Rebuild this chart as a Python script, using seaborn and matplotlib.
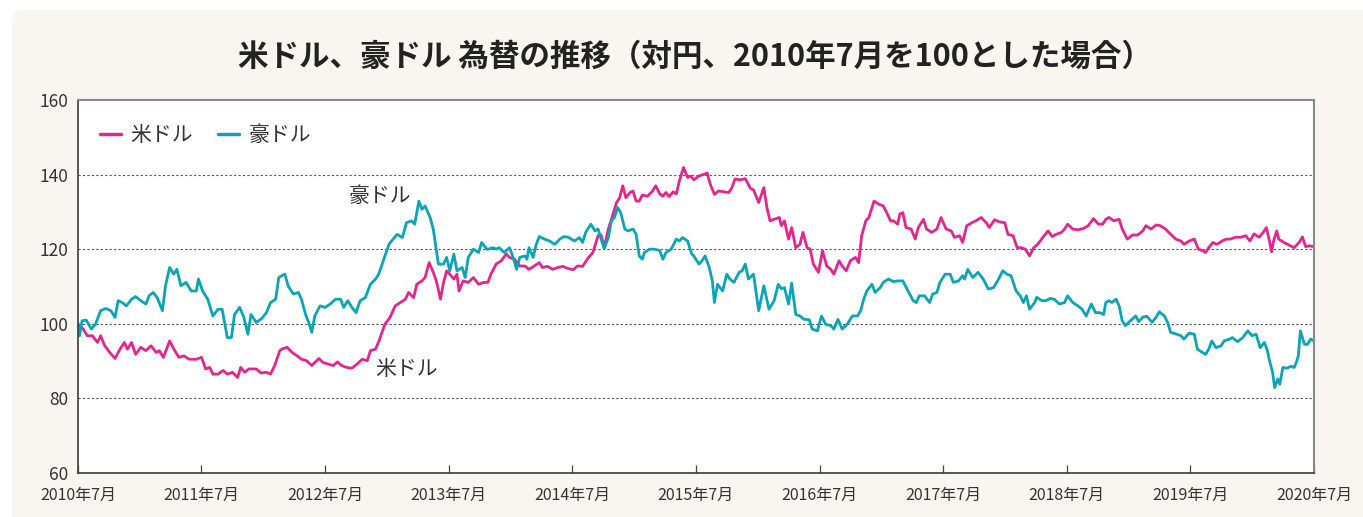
import pandas as pd
import numpy as np
import matplotlib
matplotlib.use("Agg")
import matplotlib.pyplot as plt
from matplotlib.patches import FancyBboxPatch
import seaborn as sns

# ----------------------------
# データ（2010年7月=100、横軸は2010年7月からの経過月数）
# ----------------------------
usd_month = [
    0.0, 0.5, 0.9, 1.4, 1.9, 2.2, 2.6, 3.1, 3.6, 4.0, 4.5, 4.8, 5.2, 5.6, 6.1, 6.6, 7.1, 7.6, 7.9, 8.3,
    8.9, 9.4, 9.8, 10.3, 10.8, 11.5, 12.0, 12.4, 12.8, 13.1, 13.6, 14.1, 14.5, 15.0, 15.5, 15.8, 16.2,
    16.6, 17.3, 17.8, 18.3, 18.7, 19.1, 19.6,
    19.8, 20.3, 20.8, 21.3, 21.7, 22.2, 22.7, 23.0, 23.4, 23.8, 24.3, 24.8, 25.2, 25.6, 26.1, 26.6, 27.1,
    27.6, 28.1, 28.4, 28.9, 29.3, 29.8, 30.3, 30.8, 31.3, 31.8, 32.1, 32.6, 32.9, 33.4, 33.7, 34.1, 34.5,
    34.8, 35.2, 35.5, 35.8, 36.1, 36.5, 36.8, 37.0, 37.4, 37.9, 38.4, 38.9, 39.4,
    39.8, 40.1, 40.6, 41.1, 41.6, 41.9, 42.4, 42.9, 43.4, 43.8, 44.3, 44.8, 45.1, 45.6, 46.1, 46.6, 47.1,
    47.6, 48.1, 48.5, 49.0, 49.5, 50.0, 50.5, 50.8, 51.1, 51.5, 51.8, 52.3, 52.6, 52.9, 53.2, 53.6, 53.9,
    54.2, 54.5, 54.8, 55.3, 55.8, 56.1, 56.5, 56.8, 57.1, 57.4, 57.8, 58.1, 58.4, 58.8, 59.2, 59.5,
    59.8, 60.3, 60.8, 61.1, 61.4, 61.8, 62.2, 62.7, 63.2, 63.5, 63.8, 64.3, 64.8, 65.3, 65.6, 66.1, 66.6,
    66.9, 67.2, 67.6, 68.1, 68.3, 68.6, 69.0, 69.3, 69.7, 70.1, 70.4, 70.8, 71.1, 71.4, 71.9, 72.3, 72.7,
    73.1, 73.4, 73.9, 74.2, 74.6, 75.0, 75.5, 75.8, 76.1, 76.5, 76.8, 77.3, 77.8, 78.2, 78.6, 78.9, 79.2,
    79.6,
    79.8, 80.1, 80.4, 80.9, 81.3, 81.6, 82.1, 82.4, 82.9, 83.4, 83.8, 84.3, 84.8, 85.1, 85.6, 85.9, 86.3,
    86.8, 87.2, 87.7, 88.2, 88.5, 89.0, 89.5, 90.0, 90.3, 90.8, 91.2, 91.6, 92.0, 92.4, 92.8, 93.2, 93.7,
    94.2, 94.6, 95.0, 95.5, 95.8, 96.1, 96.6, 97.1, 97.6, 98.1, 98.6, 99.1, 99.5,
    99.8, 100.1, 100.6, 101.1, 101.4, 101.9, 102.4, 102.9, 103.4, 103.7, 104.2, 104.7, 105.1, 105.6,
    106.1, 106.6, 107.1, 107.4, 107.9, 108.4, 108.8, 109.2, 109.5, 109.8, 110.2, 110.6, 111.1, 111.5,
    111.9, 112.4, 112.9, 113.4, 113.8, 114.2, 114.7, 115.2, 115.4, 115.7, 115.9, 116.1, 116.4, 116.6,
    117.1, 117.6, 118.1, 118.6, 118.9, 119.2, 119.6, 120.0,
]
usd_value = [
    100.0, 98.6, 96.8, 96.8, 95.0, 96.8, 94.1, 92.3, 90.7, 92.8, 95.0, 93.2, 95.0, 91.8, 93.7, 92.8, 94.1,
    92.3, 92.8, 91.0, 95.4, 92.8, 91.0, 91.4, 90.5, 90.5, 91.0, 87.9, 88.3, 86.5, 86.5, 87.5, 86.5, 87.0,
    85.6, 88.3, 87.0, 87.9, 87.9, 86.8, 87.0, 86.5, 88.8, 92.8,
    93.2, 93.7, 92.3, 91.4, 90.5, 90.1, 88.8, 89.6, 90.7, 89.6, 89.2, 88.8, 89.8, 88.8, 88.3, 88.1, 89.2,
    90.5, 90.1, 92.8, 93.2, 95.9, 99.9, 101.7, 104.8, 105.7, 106.6, 108.4, 107.0, 110.6, 111.5, 112.4,
    116.4, 113.8, 111.5, 106.6, 111.1, 114.2, 113.3, 112.0, 113.3, 108.8, 111.5, 111.1, 112.4, 110.6,
    111.1,
    111.1, 113.3, 116.0, 116.9, 118.7, 117.8, 117.3, 115.5, 115.5, 114.6, 115.5, 116.4, 115.1, 115.4,
    114.6, 115.1, 115.4, 114.8, 114.5, 115.5, 115.4, 117.5, 119.1, 123.6, 123.8, 120.4, 125.4, 128.0,
    132.5, 133.8, 137.0, 133.8, 135.2, 135.6, 132.9, 132.9, 134.5, 134.2, 135.6, 137.0, 134.8, 134.2,
    135.2, 134.1, 135.4, 134.8, 138.3, 141.9, 139.2, 139.6,
    138.6, 139.6, 140.1, 140.4, 137.4, 134.7, 135.6, 135.4, 135.2, 136.5, 138.8, 138.6, 138.9, 136.3,
    135.9, 132.5, 136.5, 131.2, 127.6, 128.0, 128.5, 126.3, 127.6, 122.7, 125.8, 120.4, 121.3, 124.5,
    120.4, 120.0, 116.0, 113.8, 119.6, 115.5, 114.6, 113.3, 116.9, 115.5, 114.2, 116.9, 117.8, 116.4,
    123.6, 127.6, 128.5, 132.9, 132.0, 131.6, 129.4, 127.6, 127.6, 126.7,
    129.4, 129.8, 125.8, 125.4, 122.7, 125.8, 128.0, 125.4, 124.5, 125.4, 128.5, 125.4, 124.9, 123.2,
    123.6, 121.8, 126.3, 127.1, 127.6, 128.5, 127.1, 125.8, 127.9, 127.3, 127.1, 124.0, 123.6, 120.4,
    120.4, 120.0, 118.2, 120.4, 121.3, 123.2, 124.9, 123.4, 124.0, 124.5, 125.4, 126.7, 125.4, 125.2,
    125.5, 126.3, 128.2, 126.7, 126.7,
    128.0, 128.5, 127.6, 128.0, 125.4, 122.7, 123.8, 123.8, 124.9, 126.3, 125.4, 126.5, 126.3, 125.4,
    124.0, 122.7, 122.2, 121.3, 122.2, 122.7, 120.0, 119.6, 119.1, 120.4, 121.8, 121.3, 122.2, 122.7,
    122.7, 123.2, 123.2, 123.6, 122.2, 124.1, 123.2, 124.9, 125.8, 122.2, 119.3, 122.2, 124.9, 122.7,
    121.8, 121.1, 120.4, 121.9, 123.3, 120.7, 120.9, 120.7,
]

aud_month = [
    0.0, 0.15, 0.4, 0.8, 1.3, 1.7, 2.2, 2.7, 3.2, 3.6, 3.9, 4.3, 4.7, 5.2, 5.6, 6.1, 6.6, 6.9, 7.3, 7.7,
    8.2, 8.5, 8.9, 9.3, 9.6, 10.0, 10.5, 11.0, 11.5, 11.7, 12.1, 12.6, 13.1, 13.6, 14.0, 14.5, 14.9,
    15.2, 15.7, 16.1, 16.5, 16.8, 17.3, 17.8, 18.3, 18.7, 19.2, 19.5,
    19.8, 20.1, 20.4, 20.9, 21.4, 21.7, 22.1, 22.4, 22.7, 23.0, 23.5, 24.0, 24.5, 25.0, 25.5, 25.8, 26.2,
    26.6, 27.0, 27.4, 27.9, 28.4, 28.9, 29.2, 29.7, 30.2, 30.6, 31.0, 31.5, 31.9, 32.4, 32.7, 33.1, 33.4,
    33.7, 34.2, 34.5, 35.0, 35.5, 35.8, 36.1, 36.5, 36.8, 37.3, 37.6, 37.9, 38.4, 38.9, 39.2, 39.7,
    39.8, 40.3, 40.6, 40.9, 41.4, 41.9, 42.2, 42.6, 42.9, 43.4, 43.6, 43.8, 44.2, 44.5, 44.8, 45.3, 45.8,
    46.3, 46.8, 47.2, 47.7, 48.2, 48.7, 49.0, 49.3, 49.8, 50.2, 50.5, 50.8, 51.1, 51.5, 51.8, 52.1, 52.4,
    52.7, 53.1, 53.4, 53.9, 54.2, 54.5, 54.8, 55.0, 55.5, 56.0, 56.5, 56.8, 57.1, 57.6, 58.1, 58.4, 58.7,
    59.2, 59.6,
    59.8, 60.3, 60.6, 60.9, 61.3, 61.6, 61.8, 62.1, 62.6, 63.0, 63.3, 63.7, 64.2, 64.5, 64.8, 65.1, 65.6,
    66.1, 66.6, 67.1, 67.6, 68.0, 68.3, 68.6, 69.0, 69.3, 69.7, 70.1, 70.5, 71.0, 71.3, 71.8, 72.2, 72.6,
    73.1, 73.4, 73.8, 74.2, 74.7, 75.2, 75.7, 76.0, 76.3, 76.6, 77.1, 77.4, 77.9, 78.2, 78.7, 79.2, 79.6,
    79.8, 80.1, 80.6, 81.1, 81.4, 81.7, 82.2, 82.7, 83.0, 83.4, 83.7, 84.2, 84.7, 85.0, 85.5, 85.9, 86.1,
    86.4, 86.9, 87.4, 87.9, 88.4, 88.9, 89.3, 89.8, 90.2, 90.6, 91.1, 91.5, 91.8, 92.1, 92.4, 92.9, 93.1,
    93.6, 94.0, 94.4, 94.8, 95.3, 95.8, 96.1, 96.6, 97.1, 97.5, 97.9, 98.4, 98.8, 99.2, 99.6,
    99.8, 100.1, 100.4, 100.8, 101.1, 101.4, 101.7, 102.2, 102.7, 103.0, 103.4, 103.8, 104.3, 104.7,
    105.0, 105.5, 105.8, 106.1, 106.6, 107.1, 107.4, 107.9, 108.4, 108.7, 109.2, 109.5, 109.8, 110.1,
    110.5, 111.0, 111.3, 111.8, 112.1, 112.6, 113.1, 113.6, 114.0, 114.4, 114.8, 115.2, 115.5, 115.7,
    116.0, 116.2, 116.5, 116.7, 117.0, 117.4, 117.8, 118.1, 118.3, 118.5, 118.7, 119.1, 119.4, 119.7,
    120.0,
]
aud_value = [
    100.0, 96.8, 100.8, 101.0, 98.6, 99.9, 103.5, 104.1, 103.5, 101.7, 106.2, 105.7, 104.8, 106.6, 107.3,
    106.2, 105.3, 107.5, 108.4, 107.0, 103.5, 110.2, 115.1, 113.3, 114.6, 110.2, 111.1, 108.8, 108.8,
    112.0, 108.8, 106.6, 102.1, 103.9, 103.9, 96.3, 96.3, 102.5, 104.4, 101.8, 97.2, 102.5, 100.4, 101.3,
    103.0, 105.7, 106.6, 112.4,
    112.9, 113.3, 110.2, 108.0, 108.4, 106.6, 102.5, 100.4, 97.7, 102.1, 104.8, 104.4, 105.3, 106.6,
    106.6, 104.4, 106.2, 104.4, 103.0, 106.2, 107.0, 110.6, 112.0, 113.3, 117.3, 121.3, 122.7, 124.0,
    123.1, 127.1, 127.6, 126.7, 132.9, 130.7, 131.6, 128.5, 125.4, 116.0, 116.0, 117.8, 114.2, 118.7,
    114.2, 115.1, 112.4, 117.8, 120.0, 119.1, 121.8, 120.0,
    120.0, 120.4, 120.0, 120.4, 119.1, 120.4, 118.2, 114.6, 117.8, 118.2, 117.3, 120.4, 117.8, 121.3,
    123.4, 122.7, 122.2, 121.3, 122.7, 123.4, 123.1, 122.2, 123.1, 121.8, 124.5, 126.7, 124.9, 125.4,
    122.7, 120.2, 123.1, 127.6, 128.5, 131.2, 129.8, 125.4, 124.9, 125.4, 124.0, 118.2, 117.3, 119.1,
    120.0, 120.0, 119.6, 117.3, 119.1, 120.0, 122.7, 122.2, 123.1, 122.2, 118.7,
    118.2, 116.0, 116.9, 118.2, 115.1, 111.5, 105.7, 110.6, 108.8, 113.3, 112.0, 111.1, 113.8, 114.2,
    116.0, 112.0, 113.3, 103.5, 110.2, 103.9, 106.2, 110.6, 109.4, 109.7, 105.3, 110.9, 102.5, 102.1,
    101.2, 101.1, 98.6, 98.1, 102.1, 99.9, 99.5, 98.6, 101.2, 98.6, 99.9, 102.1, 102.1, 103.5, 106.6,
    108.8, 110.6, 108.4, 109.7, 111.1, 112.0, 111.3, 111.5,
    111.5, 111.5, 108.8, 106.2, 105.7, 107.5, 107.5, 105.7, 108.0, 108.4, 111.1, 113.3, 113.3, 111.1,
    111.5, 112.9, 112.0, 114.6, 112.4, 113.8, 112.0, 109.3, 109.7, 111.5, 114.2, 113.3, 112.9, 108.8,
    107.5, 105.7, 107.5, 103.9, 105.7, 107.1, 106.2, 106.2, 106.8, 106.6, 105.3, 105.7, 107.5, 105.7,
    104.8, 103.9, 102.1, 105.3, 103.0, 103.0, 102.5,
    105.7, 106.2, 105.7, 106.6, 104.8, 100.8, 99.5, 100.8, 102.1, 100.6, 101.8, 102.0, 100.4, 101.8,
    103.2, 102.1, 100.4, 97.7, 97.3, 96.8, 95.9, 97.5, 97.2, 93.2, 92.3, 91.8, 93.2, 95.4, 93.6, 94.1,
    95.4, 95.9, 96.3, 95.2, 96.3, 98.1, 96.8, 97.2, 93.6, 95.0, 92.8, 90.1, 87.0, 82.9, 85.2, 83.8, 88.3,
    88.1, 88.6, 88.3, 89.6, 91.4, 98.1, 94.5, 94.5, 95.9, 95.4,
]

series_names = ["米ドル", "豪ドル"]
series_colors = ["#e3258e", "#0aa4b4"]
tick_years = list(range(2010, 2021))
tick_labels = [f"{y}年7月" for y in tick_years]
y_ticks = [60, 80, 100, 120, 140, 160]

START = pd.Timestamp("2010-07-01")


def to_date(months):
    return START + pd.to_timedelta(np.asarray(months) * 30.4375, unit="D")


df = pd.concat([
    pd.DataFrame({"date": to_date(usd_month), "value": usd_value, "series": series_names[0]}),
    pd.DataFrame({"date": to_date(aud_month), "value": aud_value, "series": series_names[1]}),
], ignore_index=True)

# ----------------------------
# 描画
# ----------------------------
sns.set_theme(style="white")
plt.rcParams["font.family"] = ["Noto Sans CJK JP", "DejaVu Sans"]

fig = plt.figure(figsize=(13.63, 5.17), dpi=100, facecolor="white")
bg = FancyBboxPatch((0.12, -1.0), 14.0, 6.07, boxstyle="round,pad=0,rounding_size=0.1",
                    transform=fig.dpi_scale_trans, facecolor="#f9f6f1", edgecolor="none", zorder=-10)
fig.add_artist(bg)

ax = fig.add_axes([0.0572, 0.0851, 0.9068, 0.7215])
ax.set_facecolor("white")

sns.lineplot(data=df, x="date", y="value", hue="series", hue_order=series_names,
             palette=series_colors, linewidth=2.0, ax=ax, estimator=None, sort=False)

ax.set_xlim(pd.Timestamp("2010-07-01"), pd.Timestamp("2020-07-01"))
ax.set_ylim(60, 160)
ax.set_xticks([pd.Timestamp(f"{y}-07-01") for y in tick_years])
ax.set_xticklabels(tick_labels, fontsize=11.5, color="#333333")
ax.set_yticks(y_ticks)
ax.set_yticklabels([str(v) for v in y_ticks], fontsize=12.5, color="#333333")
ax.set_xlabel("")
ax.set_ylabel("")

ax.tick_params(axis="x", direction="in", length=6, width=0.9, color="#444444", pad=10, bottom=True)
ax.tick_params(axis="y", length=0, pad=7)

for v in [80, 100, 120, 140]:
    ax.axhline(v, color="#555555", linestyle=(0, (2, 2)), linewidth=0.8, zorder=0)

for side in ["left", "bottom"]:
    ax.spines[side].set_color("#3a3a3a")
    ax.spines[side].set_linewidth(1.2)
for side in ["top", "right"]:
    ax.spines[side].set_color("#8a8a8a")
    ax.spines[side].set_linewidth(1.5)

leg = ax.legend(loc="upper left", bbox_to_anchor=(0.003, 0.985), ncol=2, frameon=False,
                fontsize=15, handlelength=1.0, handletextpad=0.45, columnspacing=1.2)
for t in leg.get_texts():
    t.set_color("#333333")
for h in leg.get_lines():
    h.set_linewidth(2.5)

ax.text(to_date([29.3])[0], 134.2, "豪ドル", fontsize=15, color="#333333", ha="center", va="center")
ax.text(to_date([31.9])[0], 88.0, "米ドル", fontsize=15, color="#333333", ha="center", va="center")

fig.text(0.51, 0.89, "米ドル、豪ドル 為替の推移（対円、2010年7月を100とした場合）",
         fontsize=22, fontweight="bold", color="#222222", ha="center", va="center")

fig.savefig("out.png", dpi=100, facecolor=fig.get_facecolor())
